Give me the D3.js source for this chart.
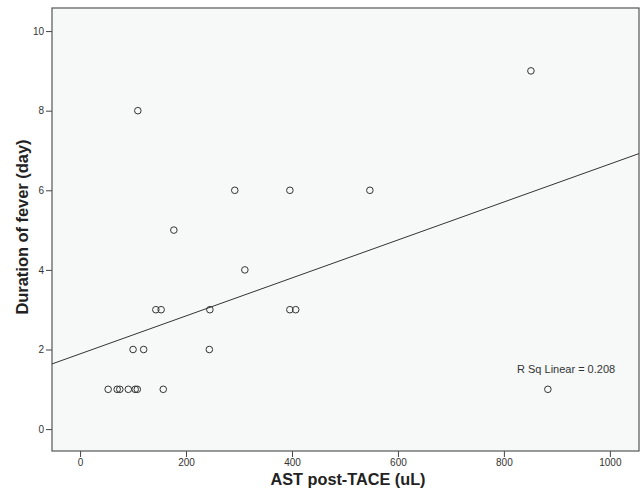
<!DOCTYPE html>
<html>
<head>
<meta charset="utf-8">
<script src="https://cdn.jsdelivr.net/npm/d3@7"></script>
<style>
  body { margin: 0; background: #fff; }
  svg text { font-family: "Liberation Sans", Arial, sans-serif; }
  .tick text { font-size: 10px; fill: #333; }
  .axis-title { font-size: 16px; font-weight: bold; fill: #222; }
</style>
</head>
<body>
<div id="canvas"></div>
<script>
  const w = 641;
  const h = 488;
  const margin = { top: 8, bottom: 37, left: 52, right: 2 };

  // AST post-TACE (uL) and duration of fever (day)
  const astValues   = [851, 109, 292, 396, 547, 177, 311, 143, 153, 245, 396, 407, 100, 120, 244, 53, 70, 75, 91, 104, 108, 157, 883];
  const feverValues = [9,   8,   6,   6,   6,   5,   4,   3,   3,   3,   3,   3,   2,   2,   2,   1,  1,  1,  1,  1,   1,   1,   1];

  const xTicks = [0, 200, 400, 600, 800, 1000];
  const yTicks = [0, 2, 4, 6, 8, 10];

  // fit line as shown in the figure
  const fitIntercept = 1.89;
  const fitSlope = 0.00477;
  const rSqLabel = "R Sq Linear = 0.208";

  const width = w - margin.left - margin.right;
  const height = h - margin.top - margin.bottom;

  const svg = d3.select("#canvas").append("svg")
    .attr("width", w)
    .attr("height", h);

  const chart = svg.append("g")
    .attr("transform", "translate(" + margin.left + "," + margin.top + ")");

  const x = d3.scaleLinear().domain([-53, 1055]).range([0, width]);
  const y = d3.scaleLinear().domain([-0.55, 10.58]).range([height, 0]);

  chart.append("rect")
    .attr("width", width)
    .attr("height", height)
    .attr("fill", "#f7f9f9");

  // axes
  const xAxis = d3.axisBottom(x).tickValues(xTicks).tickFormat(d3.format("d")).tickSize(6).tickPadding(2);
  const yAxis = d3.axisLeft(y).tickValues(yTicks).tickFormat(d3.format("d")).tickSize(6).tickPadding(2);

  const gx = chart.append("g")
    .attr("transform", "translate(0," + height + ")")
    .call(xAxis);
  const gy = chart.append("g").call(yAxis);

  [gx, gy].forEach(function(g){
    g.select(".domain").remove();
    g.selectAll(".tick line").attr("stroke", "#444");
  });

  // frame
  chart.append("rect")
    .attr("width", width)
    .attr("height", height)
    .attr("fill", "none")
    .attr("stroke", "#555")
    .attr("stroke-width", 1.2);

  // regression line
  const xd = x.domain();
  chart.append("line")
    .attr("x1", x(xd[0]))
    .attr("y1", y(fitIntercept + fitSlope * xd[0]))
    .attr("x2", x(xd[1]))
    .attr("y2", y(fitIntercept + fitSlope * xd[1]))
    .attr("stroke", "#333")
    .attr("stroke-width", 1);

  // points
  const data = astValues.map(function(v, i){ return { ast: v, fever: feverValues[i] }; });
  chart.selectAll(".point")
    .data(data)
    .enter()
    .append("circle")
    .classed("point", true)
    .attr("cx", function(d){ return x(d.ast); })
    .attr("cy", function(d){ return y(d.fever); })
    .attr("r", 3.3)
    .attr("fill", "none")
    .attr("stroke", "#333")
    .attr("stroke-width", 1);

  chart.append("text")
    .attr("x", x(1010))
    .attr("y", y(1.4))
    .attr("text-anchor", "end")
    .style("font-size", "11px")
    .style("fill", "#333")
    .text(rSqLabel);

  // titles
  svg.append("text")
    .classed("axis-title", true)
    .attr("x", 348)
    .attr("y", 485)
    .attr("text-anchor", "middle")
    .attr("textLength", 155)
    .attr("lengthAdjust", "spacingAndGlyphs")
    .text("AST post-TACE (uL)");

  svg.append("text")
    .classed("axis-title", true)
    .attr("transform", "translate(28,227) rotate(-90)")
    .attr("text-anchor", "middle")
    .attr("textLength", 175)
    .attr("lengthAdjust", "spacingAndGlyphs")
    .text("Duration of fever (day)");
</script>
</body>
</html>
